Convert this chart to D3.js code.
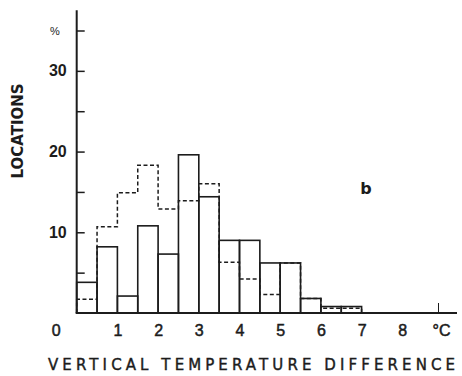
<!DOCTYPE html>
<html>
<head>
<meta charset="utf-8">
<script src="https://cdn.jsdelivr.net/npm/d3@7/dist/d3.min.js"></script>
<style>
  body { margin: 0; background: #fff; }
  svg { display: block; font-family: "DejaVu Sans", "Liberation Sans", sans-serif; }
</style>
</head>
<body>
<svg id="chart" width="462" height="376"></svg>
<script>
// bins of 0.5 °C, from 0 to 7
const binStarts = [0, 0.5, 1, 1.5, 2, 2.5, 3, 3.5, 4, 4.5, 5, 5.5, 6, 6.5];
const solidPct  = [3.8, 8.2, 2.1, 10.8, 7.3, 19.6, 14.4, 9.0, 9.0, 6.2, 6.2, 1.8, 0.8, 0.8];
const dashedPct = [1.7, 10.7, 14.9, 18.3, 12.9, 13.9, 16.0, 6.3, 4.2, 2.3, 6.2, 1.8, 0.6, 0.6];
const binWidth = 0.5;

const yTicks = [5, 10, 15, 20, 25, 30, 35];
const xTicks = [0, 1, 2, 3, 4, 5, 6, 7, 8, 9];

const svg = d3.select('#chart');
const ink = '#1c1c1c';

const x = d3.scaleLinear().domain([0, 9]).range([76.7, 443]);
const y = d3.scaleLinear().domain([0, 35]).range([313, 30.5]);

// dashed histogram outline (drawn first, solid bars over it)
const stepPts = [[0, 0]];
binStarts.forEach((b, i) => {
  stepPts.push([b, dashedPct[i]]);
  stepPts.push([b + binWidth, dashedPct[i]]);
});
stepPts.push([binStarts[binStarts.length - 1] + binWidth, 0]);

svg.append('path')
  .attr('d', d3.line().x(d => x(d[0])).y(d => y(d[1]))(stepPts))
  .attr('fill', 'none')
  .attr('stroke', ink)
  .attr('stroke-width', 1.5)
  .attr('stroke-dasharray', '4,2.5');

// solid bars, outline only
svg.append('g').selectAll('rect')
  .data(binStarts.map((b, i) => ({b, v: solidPct[i]})))
  .join('rect')
  .attr('x', d => x(d.b))
  .attr('y', d => y(d.v))
  .attr('width', d => x(d.b + binWidth) - x(d.b))
  .attr('height', d => y(0) - y(d.v))
  .attr('fill', 'none')
  .attr('stroke', ink)
  .attr('stroke-width', 1.6);

// y axis
const yAxis = svg.append('g')
  .attr('transform', `translate(${x(0)},0)`)
  .call(d3.axisLeft(y).tickValues(yTicks).tickSize(-8).tickPadding(10)
    .tickFormat(d => d === 35 ? '%' : (d % 10 === 0 ? d : '')));
yAxis.select('.domain').remove();
yAxis.selectAll('line').attr('stroke', ink).attr('stroke-width', 1.5);
yAxis.selectAll('text')
  .attr('fill', ink)
  .style('font-size', '16px')
  .style('font-weight', 'bold');
yAxis.selectAll('text').filter(d => d === 35)
  .style('font-size', '11px')
  .style('font-weight', 'normal')
  .attr('x', -17);

svg.append('line')
  .attr('x1', x(0)).attr('x2', x(0))
  .attr('y1', y(37.5)).attr('y2', y(0))
  .attr('stroke', ink).attr('stroke-width', 2);

// x axis
const xAxis = svg.append('g')
  .attr('transform', `translate(0,${y(0)})`)
  .call(d3.axisBottom(x).tickValues(xTicks).tickSize(0).tickPadding(12)
    .tickFormat(d => d === 9 ? '°C' : d));
xAxis.select('.domain').remove();
xAxis.selectAll('text')
  .attr('fill', ink)
  .attr('stroke', ink)
  .attr('stroke-width', 0.5)
  .style('font-size', '16px');
xAxis.selectAll('text').filter(d => d === 0).attr('x', -21);
xAxis.selectAll('text').filter(d => d === 9).attr('x', -2);
xAxis.selectAll('.tick').filter(d => d === 9).append('line')
  .attr('x1', -5).attr('x2', -5).attr('y1', 0).attr('y2', -10)
  .attr('stroke', ink).attr('stroke-width', 1);

svg.append('line')
  .attr('x1', x(0) - 1).attr('x2', 457)
  .attr('y1', y(0)).attr('y2', y(0))
  .attr('stroke', ink).attr('stroke-width', 2);

// titles
svg.append('text')
  .attr('x', 48).attr('y', 370)
  .attr('textLength', 407)
  .attr('lengthAdjust', 'spacing')
  .attr('fill', ink)
  .attr('stroke', ink)
  .attr('stroke-width', 0.4)
  .style('font-size', '15px')
  .text('VERTICAL TEMPERATURE DIFFERENCE');

svg.append('text')
  .attr('transform', 'translate(23,131) rotate(-90)')
  .attr('text-anchor', 'middle')
  .attr('fill', ink)
  .style('font-size', '15px')
  .style('font-weight', 'bold')
  .text('LOCATIONS');

svg.append('text')
  .attr('x', 366).attr('y', 194)
  .attr('text-anchor', 'middle')
  .attr('fill', ink)
  .style('font-size', '16px')
  .style('font-weight', 'bold')
  .text('b');
</script>
</body>
</html>
